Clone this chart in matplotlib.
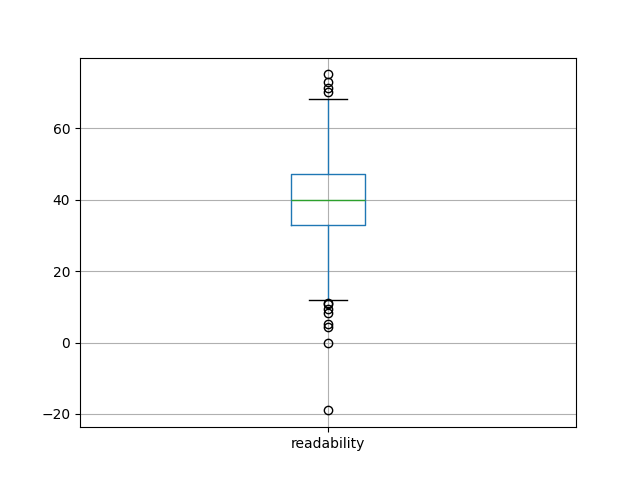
import matplotlib
matplotlib.use("Agg")
import matplotlib.pyplot as plt

# box statistics
label = "readability"
q1 = 33.0
med = 40.0
q3 = 47.2
whislo = 11.8
whishi = 68.3
fliers = [75.1, 73.1, 71.2, 70.3, 11.2, 10.8, 9.5, 8.3, 5.2, 4.3, 0.0, -19.0]

stats = [{"label": label, "q1": q1, "med": med, "q3": q3,
          "whislo": whislo, "whishi": whishi, "fliers": fliers}]

fig, ax = plt.subplots(figsize=(6.4, 4.8), dpi=100)
ax.bxp(stats,
       boxprops=dict(color="C0"),
       whiskerprops=dict(color="C0"),
       medianprops=dict(color="C2"),
       capprops=dict(color="k"))
ax.grid(True)
fig.savefig("out.png")
